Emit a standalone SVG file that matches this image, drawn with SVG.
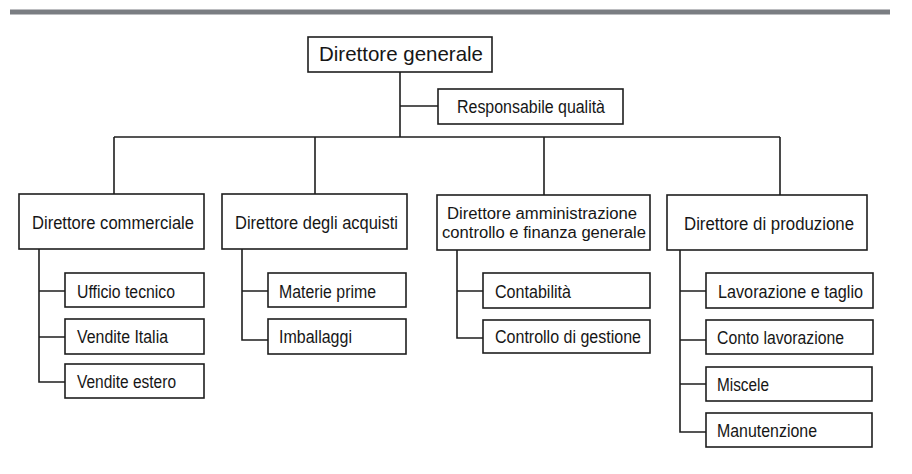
<svg xmlns="http://www.w3.org/2000/svg" width="912" height="474" viewBox="0 0 912 474">
<style>
.box{fill:#fff;stroke:#1e1e1e;stroke-width:1.6}
.ln{fill:none;stroke:#1e1e1e;stroke-width:1.6}
text{font-family:"Liberation Sans",Arial,sans-serif;fill:#161616;font-size:17.5px}
.c{text-anchor:middle}
</style>
<rect x="0" y="0" width="912" height="474" fill="#fff"/>
<rect x="10" y="9.5" width="880" height="5" fill="#7a7d82"/>
<g id="connectors">
<path class="ln" d="M400,72V137M400,106H438M114,137H780M114,137V194M315,137V194M544,137V195M780,137V195"/>
<path class="ln" d="M39,249V382H65M39,291H65M39,337H65"/>
<path class="ln" d="M242,249V340H268M242,291H268"/>
<path class="ln" d="M457,250V338H483M457,291H483"/>
<path class="ln" d="M680,250V432H706M680,291H706M680,340H706M680,384H706"/>
</g>
<g id="n-generale"><rect class="box" x="308" y="37" width="184" height="35"/><text x="319" y="61" style="font-size:21px" textLength="164" lengthAdjust="spacingAndGlyphs">Direttore generale</text></g>
<g id="n-qualita"><rect class="box" x="438" y="89" width="185" height="35"/><text x="457" y="112.5" textLength="148" lengthAdjust="spacingAndGlyphs">Responsabile qualità</text></g>
<g id="n-commerciale"><rect class="box" x="19" y="194" width="185" height="55"/><text x="32" y="229" textLength="162" lengthAdjust="spacingAndGlyphs">Direttore commerciale</text></g>
<g id="n-acquisti"><rect class="box" x="222" y="194" width="185" height="55"/><text x="235" y="229" textLength="163" lengthAdjust="spacingAndGlyphs">Direttore degli acquisti</text></g>
<g id="n-amministrazione"><rect class="box" x="437" y="195" width="213" height="55"/><text x="447" y="219" style="font-size:16px" textLength="190" lengthAdjust="spacingAndGlyphs">Direttore amministrazione</text><text x="442" y="238" style="font-size:16px" textLength="204" lengthAdjust="spacingAndGlyphs">controllo e finanza generale</text></g>
<g id="n-produzione"><rect class="box" x="667" y="195" width="200" height="55"/><text x="684" y="230" textLength="170" lengthAdjust="spacingAndGlyphs">Direttore di produzione</text></g>
<g id="n-ufficio"><rect class="box" x="65" y="273" width="139" height="34"/><text x="77" y="297.5" textLength="98" lengthAdjust="spacingAndGlyphs">Ufficio tecnico</text></g>
<g id="n-italia"><rect class="box" x="65" y="319" width="139" height="35"/><text x="77" y="343" textLength="91" lengthAdjust="spacingAndGlyphs">Vendite Italia</text></g>
<g id="n-estero"><rect class="box" x="65" y="364" width="139" height="34"/><text x="77" y="388" textLength="99" lengthAdjust="spacingAndGlyphs">Vendite estero</text></g>
<g id="n-materie"><rect class="box" x="268" y="273" width="138" height="34"/><text x="279" y="297.5" textLength="97" lengthAdjust="spacingAndGlyphs">Materie prime</text></g>
<g id="n-imballaggi"><rect class="box" x="268" y="319" width="138" height="35"/><text x="279" y="343" textLength="73" lengthAdjust="spacingAndGlyphs">Imballaggi</text></g>
<g id="n-contabilita"><rect class="box" x="483" y="273" width="167" height="35"/><text x="495" y="297.5" textLength="76" lengthAdjust="spacingAndGlyphs">Contabilità</text></g>
<g id="n-gestione"><rect class="box" x="483" y="320" width="167" height="33"/><text x="495" y="343" textLength="146" lengthAdjust="spacingAndGlyphs">Controllo di gestione</text></g>
<g id="n-lavorazione"><rect class="box" x="706" y="273" width="167" height="35"/><text x="718" y="297.5" textLength="145" lengthAdjust="spacingAndGlyphs">Lavorazione e  taglio</text></g>
<g id="n-conto"><rect class="box" x="706" y="320" width="167" height="34"/><text x="717" y="344" textLength="127" lengthAdjust="spacingAndGlyphs">Conto lavorazione</text></g>
<g id="n-miscele"><rect class="box" x="706" y="367" width="166" height="34"/><text x="717" y="391" textLength="52" lengthAdjust="spacingAndGlyphs">Miscele</text></g>
<g id="n-manutenzione"><rect class="box" x="706" y="413" width="166" height="34"/><text x="717" y="437" textLength="100" lengthAdjust="spacingAndGlyphs">Manutenzione</text></g>
</svg>
